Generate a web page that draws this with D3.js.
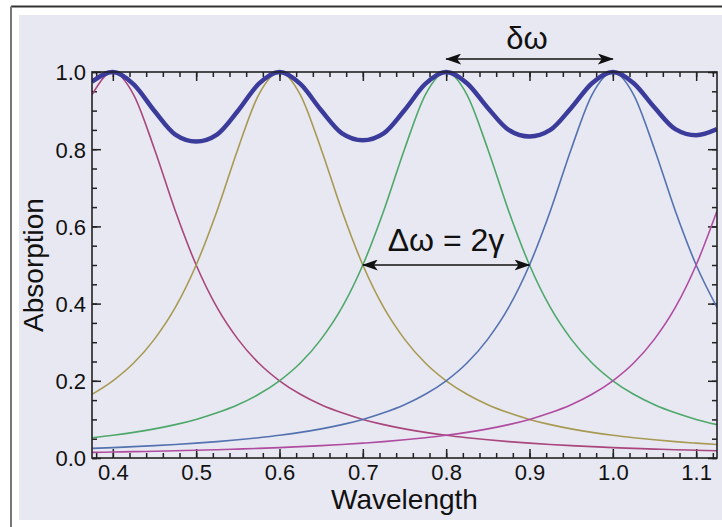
<!DOCTYPE html>
<html>
<head>
<meta charset="utf-8">
<script src="https://cdn.jsdelivr.net/npm/d3@7"></script>
<style>
  html, body { margin: 0; padding: 0; background: #fff; }
  svg { display: block; font-family: "Liberation Sans", Arial, sans-serif; }
</style>
</head>
<body>
<svg id="chart" width="722" height="527"></svg>
<script>
// sample grid (wavelength) shared by every curve
var wavelength = [0.375, 0.4, 0.425, 0.45, 0.475, 0.5, 0.525, 0.55, 0.575, 0.6, 0.625, 0.65, 0.675, 0.7, 0.725,
  0.75, 0.775, 0.8, 0.825, 0.85, 0.875, 0.9, 0.925, 0.95, 0.975, 1.0, 1.025, 1.05, 1.075, 1.1, 1.125];

// single resonances
var peak040 = [0.941, 1, 0.941, 0.800, 0.640, 0.500, 0.390, 0.308, 0.246, 0.200, 0.165, 0.138, 0.117, 0.100, 0.0865,
  0.0755, 0.0664, 0.0588, 0.0525, 0.0471, 0.0424, 0.0385, 0.0350, 0.0320, 0.0294, 0.0270, 0.0250, 0.0231, 0.0214, 0.0200, 0.0187];
var peak060 = [0.165, 0.200, 0.246, 0.308, 0.390, 0.500, 0.640, 0.800, 0.941, 1, 0.941, 0.800, 0.640, 0.500, 0.390,
  0.308, 0.246, 0.200, 0.165, 0.138, 0.117, 0.100, 0.0865, 0.0755, 0.0664, 0.0588, 0.0525, 0.0471, 0.0424, 0.0385, 0.0350];
var peak080 = [0.0525, 0.0588, 0.0664, 0.0755, 0.0865, 0.100, 0.117, 0.138, 0.165, 0.200, 0.246, 0.308, 0.390, 0.500, 0.640,
  0.800, 0.941, 1, 0.941, 0.800, 0.640, 0.500, 0.390, 0.308, 0.246, 0.200, 0.165, 0.138, 0.117, 0.100, 0.0865];
var peak100 = [0.0250, 0.0270, 0.0294, 0.0320, 0.0350, 0.0385, 0.0424, 0.0471, 0.0525, 0.0588, 0.0664, 0.0755, 0.0865, 0.100, 0.117,
  0.138, 0.165, 0.200, 0.246, 0.308, 0.390, 0.500, 0.640, 0.800, 0.941, 1, 0.941, 0.800, 0.640, 0.500, 0.390];
var peak120 = [0.0145, 0.0154, 0.0164, 0.0175, 0.0187, 0.0200, 0.0214, 0.0231, 0.0250, 0.0270, 0.0294, 0.0320, 0.0350, 0.0385, 0.0424,
  0.0471, 0.0525, 0.0588, 0.0664, 0.0755, 0.0865, 0.100, 0.117, 0.138, 0.165, 0.200, 0.246, 0.308, 0.390, 0.500, 0.640];
// combined absorption (thick line)
var total = [0.975, 1.0, 0.968, 0.899, 0.838, 0.820, 0.838, 0.899, 0.969, 1.0, 0.969, 0.901, 0.841, 0.823, 0.841,
  0.901, 0.969, 1.0, 0.971, 0.907, 0.850, 0.833, 0.850, 0.907, 0.971, 1.0, 0.971, 0.908, 0.852, 0.836, 0.852];

var xTicks = [0.4, 0.5, 0.6, 0.7, 0.8, 0.9, 1.0, 1.1];
var yTicks = [0.0, 0.2, 0.4, 0.6, 0.8, 1.0];

var series = [
  { y: peak040, color: "#a9467c" },
  { y: peak060, color: "#a89a52" },
  { y: peak080, color: "#4ea86a" },
  { y: peak100, color: "#5472b0" },
  { y: peak120, color: "#b04ca0" }
];

var W = 722, H = 527;
var M = { left: 92, right: 717, top: 72, bottom: 458 };

var svg = d3.select("#chart");

// page background + frame like the original screenshot
svg.append("rect").attr("x", 0).attr("y", 0).attr("width", W).attr("height", H).attr("fill", "#fff");
svg.append("rect").attr("x", 19).attr("y", 15).attr("width", W - 19).attr("height", 505).attr("fill", "#e8e8f2");
svg.append("line").attr("x1", 11).attr("y1", 6.5).attr("x2", W).attr("y2", 6.5).attr("stroke", "#333").attr("stroke-width", 2);
svg.append("line").attr("x1", 11).attr("y1", 6.5).attr("x2", 11).attr("y2", H).attr("stroke", "#777").attr("stroke-width", 2);

var x = d3.scaleLinear().domain([0.375, 1.125]).range([M.left, M.right]);
var y = d3.scaleLinear().domain([0, 1]).range([M.bottom, M.top]);

var defs = svg.append("defs");
defs.append("clipPath").attr("id", "plotclip").append("rect")
  .attr("x", M.left).attr("y", M.top - 6).attr("width", M.right - M.left).attr("height", M.bottom - M.top + 6);
defs.append("marker").attr("id", "arr").attr("viewBox", "0 0 16 11")
  .attr("refX", 15).attr("refY", 5.5).attr("markerWidth", 16).attr("markerHeight", 11)
  .attr("markerUnits", "userSpaceOnUse").attr("orient", "auto-start-reverse")
  .append("path").attr("d", "M0,0 L16,5.5 L0,11 L4,5.5 z").attr("fill", "#111");

// axes: ticks inward on all four sides, labels only left/bottom
var xMinor = d3.range(0.38, 1.125, 0.02);
var yMinor = d3.range(0, 1.0001, 0.05);

function tickFmt(d) { return d3.format(".1f")(d); }

var gB = svg.append("g").attr("transform", "translate(0," + M.bottom + ")")
  .call(d3.axisBottom(x).tickValues(xMinor).tickSize(-5).tickFormat(""));
var gB2 = svg.append("g").attr("transform", "translate(0," + M.bottom + ")")
  .call(d3.axisBottom(x).tickValues(xTicks).tickSize(-9).tickPadding(6).tickFormat(tickFmt));
var gT = svg.append("g").attr("transform", "translate(0," + M.top + ")")
  .call(d3.axisTop(x).tickValues(xMinor).tickSize(-5).tickFormat(""));
var gT2 = svg.append("g").attr("transform", "translate(0," + M.top + ")")
  .call(d3.axisTop(x).tickValues(xTicks).tickSize(-9).tickFormat(""));
var gL = svg.append("g").attr("transform", "translate(" + M.left + ",0)")
  .call(d3.axisLeft(y).tickValues(yMinor).tickSize(-5).tickFormat(""));
var gL2 = svg.append("g").attr("transform", "translate(" + M.left + ",0)")
  .call(d3.axisLeft(y).tickValues(yTicks).tickSize(-9).tickPadding(6).tickFormat(tickFmt));
var gR = svg.append("g").attr("transform", "translate(" + M.right + ",0)")
  .call(d3.axisRight(y).tickValues(yMinor).tickSize(-5).tickFormat(""));
var gR2 = svg.append("g").attr("transform", "translate(" + M.right + ",0)")
  .call(d3.axisRight(y).tickValues(yTicks).tickSize(-9).tickFormat(""));

[gB, gB2, gT, gT2, gL, gL2, gR, gR2].forEach(function (g) {
  g.select(".domain").remove();
  g.selectAll(".tick line").attr("stroke", "#222").attr("stroke-width", 1.5);
  g.selectAll(".tick text").attr("fill", "#111").style("font-size", "22px").style("font-family", "Liberation Sans, Arial, sans-serif");
});
gL2.selectAll(".tick text").attr("dy", "0.36em");

// curves
var line = d3.line()
  .x(function (d, i) { return x(wavelength[i]); })
  .y(function (d) { return y(d); })
  .curve(d3.curveMonotoneX);

var plot = svg.append("g").attr("clip-path", "url(#plotclip)");
series.forEach(function (s) {
  plot.append("path").attr("d", line(s.y)).attr("fill", "none")
    .attr("stroke", s.color).attr("stroke-width", 1.6);
});
plot.append("path").attr("d", line(total)).attr("fill", "none")
  .attr("stroke", "#3b3b9c").attr("stroke-width", 4.5).attr("stroke-linejoin", "round");

// plot frame
svg.append("rect").attr("x", M.left).attr("y", M.top)
  .attr("width", M.right - M.left).attr("height", M.bottom - M.top)
  .attr("fill", "none").attr("stroke", "#222").attr("stroke-width", 1.6);

// axis titles
svg.append("text").attr("x", x(0.75)).attr("y", 509).attr("text-anchor", "middle")
  .style("font-size", "28px").attr("fill", "#111").text("Wavelength");
svg.append("text").attr("transform", "translate(43," + y(0.5) + ") rotate(-90)")
  .attr("text-anchor", "middle").style("font-size", "28px").attr("fill", "#111").text("Absorption");

// annotations
svg.append("line").attr("x1", x(0.8)).attr("x2", x(1.0)).attr("y1", 59).attr("y2", 59)
  .attr("stroke", "#111").attr("stroke-width", 1.4)
  .attr("marker-start", "url(#arr)").attr("marker-end", "url(#arr)");
svg.append("text").attr("x", 527).attr("y", 49).attr("text-anchor", "middle")
  .style("font-size", "31px").attr("fill", "#111").text("δω");

svg.append("line").attr("x1", x(0.7)).attr("x2", x(0.9)).attr("y1", y(0.5)).attr("y2", y(0.5))
  .attr("stroke", "#111").attr("stroke-width", 1.4)
  .attr("marker-start", "url(#arr)").attr("marker-end", "url(#arr)");
svg.append("text").attr("x", 446).attr("y", 251).attr("text-anchor", "middle")
  .style("font-size", "32px").attr("fill", "#111").text("Δω = 2γ");
</script>
</body>
</html>
